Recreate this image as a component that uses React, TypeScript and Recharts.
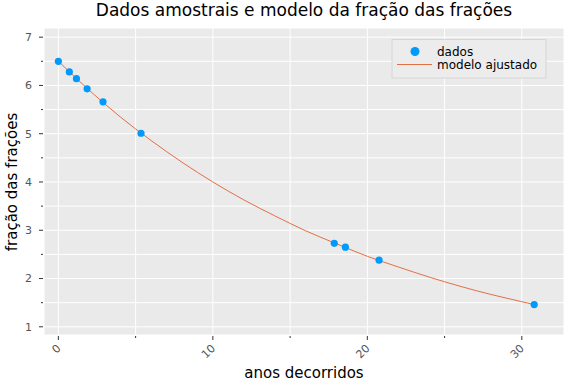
import React from 'react';
import { ComposedChart, Line, Scatter, XAxis, YAxis, CartesianGrid } from 'recharts';

// Dados amostrais
const anos = [0, 0.71, 1.17, 1.86, 2.89, 5.35, 17.86, 18.58, 20.76, 30.8];
const fracoes = [6.5, 6.28, 6.14, 5.93, 5.66, 5.01, 2.73, 2.65, 2.38, 1.46];

// Curva do modelo ajustado
const anosModelo = [0, 2, 4, 6, 8, 10, 12, 14, 16, 18, 20, 22, 24, 26, 28, 30, 30.8];
const valoresModelo = [6.5, 5.9, 5.35, 4.86, 4.41, 4.0, 3.63, 3.3, 2.99, 2.72, 2.46, 2.24, 2.03, 1.84, 1.67, 1.52, 1.46];

const xTicks = [0, 5, 10, 15, 20, 25, 30];
const yTicks = [1, 1.5, 2, 2.5, 3, 3.5, 4, 4.5, 5, 5.5, 6, 6.5, 7];

const titulo = 'Dados amostrais e modelo da fração das frações';
const rotuloX = 'anos decorridos';
const rotuloY = 'fração das frações';
const legendaDados = 'dados';
const legendaModelo = 'modelo ajustado';

const pontos = anos.map((x, i) => ({ x, y: fracoes[i] }));
const modelo = anosModelo.map((x, i) => ({ x, y: valoresModelo[i] }));

const AZUL = '#009afa';
const LARANJA = '#e26f46';
const FONT = 'DejaVu Sans, sans-serif';

const XTick = (props: any) => {
  const { x, y, payload } = props;
  const major = payload.value % 10 === 0;
  return (
    <g>
      <line x1={x} x2={x} y1={y + 1} y2={y + (major ? 5 : 3)} stroke="#333" strokeWidth={1} />
      {major && (
        <text
          x={x + 3}
          y={y + 14}
          transform={`rotate(-45, ${x + 3}, ${y + 14})`}
          textAnchor="end"
          fontSize={11}
          fill="#555"
          fontFamily={FONT}
        >
          {payload.value}
        </text>
      )}
    </g>
  );
};

const YTick = (props: any) => {
  const { x, y, payload } = props;
  const major = Number.isInteger(payload.value);
  return (
    <g>
      <line x1={x - (major ? 5 : 3)} x2={x - 1} y1={y} y2={y} stroke="#333" strokeWidth={1} />
      {major && (
        <text x={x - 12} y={y} dy="0.35em" textAnchor="end" fontSize={11} fill="#555" fontFamily={FONT}>
          {payload.value}
        </text>
      )}
    </g>
  );
};

const Ponto = (props: any) => <circle cx={props.cx} cy={props.cy} r={3.6} fill={AZUL} />;

export default function App() {
  return (
    <div style={{ position: 'absolute', left: 0, top: 0, width: 576, height: 384, background: '#fff' }}>
      <ComposedChart width={576} height={384} margin={{ top: 28, right: 12, left: 0, bottom: 0 }}>
        <CartesianGrid fill="#eaeaea" stroke="#ffffff" strokeWidth={1} />
        <XAxis
          type="number"
          dataKey="x"
          domain={[-0.93, 32.73]}
          ticks={xTicks}
          allowDataOverflow
          height={49}
          tickSize={0}
          tickMargin={0}
          tickLine={false}
          axisLine={false}
          tick={<XTick />}
          interval={0}
        />
        <YAxis
          type="number"
          dataKey="y"
          domain={[0.83, 7.19]}
          ticks={yTicks}
          allowDataOverflow
          width={44}
          tickSize={0}
          tickMargin={0}
          tickLine={false}
          axisLine={false}
          tick={<YTick />}
          interval={0}
        />
        <Line
          data={modelo}
          dataKey="y"
          type="monotone"
          stroke={LARANJA}
          strokeWidth={1}
          dot={false}
          activeDot={false}
          isAnimationActive={false}
        />
        <Scatter data={pontos} dataKey="y" fill={AZUL} shape={<Ponto />} isAnimationActive={false} />
      </ComposedChart>
      <svg
        width={576}
        height={384}
        style={{ position: 'absolute', left: 0, top: 0, pointerEvents: 'none' }}
        fontFamily={FONT}
      >
        <text x={304} y={16} textAnchor="middle" fontSize={17} fill="#000">
          {titulo}
        </text>
        <text x={304} y={378} textAnchor="middle" fontSize={15} fill="#000">
          {rotuloX}
        </text>
        <text x={17} y={182} transform="rotate(-90, 17, 182)" textAnchor="middle" fontSize={15} fill="#000">
          {rotuloY}
        </text>
        <rect x={392} y={39.5} width={154} height={38.5} fill="#ececec" stroke="#d6d6d6" strokeWidth={1} />
        <circle cx={415} cy={51.5} r={4.5} fill={AZUL} />
        <line x1={397} x2={432} y1={64.5} y2={64.5} stroke={LARANJA} strokeWidth={1} />
        <text x={437} y={56} fontSize={12} fill="#000">
          {legendaDados}
        </text>
        <text x={437} y={68.5} fontSize={12} fill="#000">
          {legendaModelo}
        </text>
      </svg>
    </div>
  );
}
